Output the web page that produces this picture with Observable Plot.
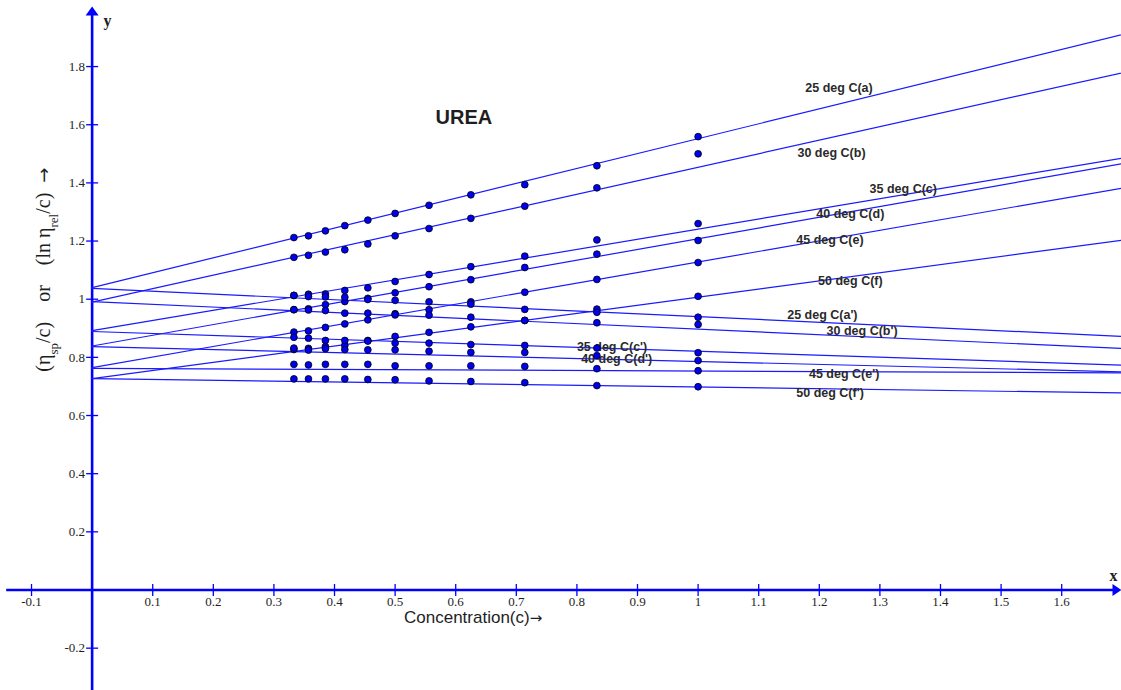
<!DOCTYPE html>
<html><head><meta charset="utf-8">
<script src="https://cdn.jsdelivr.net/npm/d3@7"></script>
<script src="https://cdn.jsdelivr.net/npm/@observablehq/plot@0.6"></script>
<style>html,body{margin:0;padding:0;background:#fff;} svg{display:block}</style>
</head><body><div id="chart"></div>
<script>
// ---- data ----
const concentration = [0.333, 0.357, 0.385, 0.417, 0.455, 0.5, 0.556, 0.625, 0.714, 0.833, 1.0];

const series_a  = [1.212, 1.218, 1.235, 1.253, 1.272, 1.295, 1.323, 1.359, 1.394, 1.459, 1.559];
const series_b  = [1.144, 1.151, 1.162, 1.170, 1.190, 1.218, 1.243, 1.278, 1.320, 1.383, 1.500];
const series_c  = [1.013, 1.017, 1.018, 1.030, 1.039, 1.061, 1.085, 1.112, 1.148, 1.204, 1.260];
const series_d  = [0.964, 0.967, 0.981, 0.992, 1.003, 1.022, 1.043, 1.067, 1.109, 1.155, 1.202];
const series_e  = [0.887, 0.891, 0.903, 0.915, 0.929, 0.950, 0.964, 0.991, 1.024, 1.068, 1.126];
const series_f  = [0.827, 0.831, 0.837, 0.841, 0.858, 0.872, 0.886, 0.905, 0.927, 0.966, 1.010];
const series_a2 = [1.013, 1.009, 1.008, 1.007, 0.999, 0.996, 0.991, 0.983, 0.965, 0.955, 0.938];
const series_b2 = [0.964, 0.963, 0.961, 0.952, 0.952, 0.946, 0.945, 0.938, 0.927, 0.919, 0.913];
const series_c2 = [0.869, 0.866, 0.858, 0.858, 0.856, 0.849, 0.849, 0.844, 0.841, 0.832, 0.816];
const series_d2 = [0.832, 0.825, 0.830, 0.827, 0.826, 0.826, 0.821, 0.817, 0.817, 0.806, 0.789];
const series_e2 = [0.776, 0.774, 0.776, 0.776, 0.776, 0.771, 0.771, 0.771, 0.769, 0.761, 0.754];
const series_f2 = [0.726, 0.726, 0.726, 0.726, 0.724, 0.723, 0.719, 0.717, 0.713, 0.703, 0.699];

const seriesLabels = ["25 deg C(a)", "30 deg C(b)", "35 deg C(c)", "40 deg C(d)", "45 deg C(e)", "50 deg C(f)",
                      "25 deg C(a')", "30 deg C(b')", "35 deg C(c')", "40 deg C(d')", "45 deg C(e')", "50 deg C(f')"];
const seriesValues = [series_a, series_b, series_c, series_d, series_e, series_f,
                      series_a2, series_b2, series_c2, series_d2, series_e2, series_f2];
// fitted straight lines (intercept at c = 0, slope)
const lineIntercepts = [1.040, 0.990, 0.892, 0.839, 0.765, 0.727, 1.037, 0.992, 0.889, 0.837, 0.762, 0.727];
const lineSlopes     = [0.512, 0.464, 0.349, 0.369, 0.363, 0.280, -0.097, -0.095, -0.068, -0.051, -0.009, -0.029];
// label anchor (left end) positions in data units
const labelAtX = [1.177, 1.164, 1.283, 1.195, 1.162, 1.198, 1.147, 1.212, 0.800, 0.807, 1.183, 1.162];
const labelAtY = [1.727, 1.502, 1.380, 1.294, 1.202, 1.064, 0.944, 0.890, 0.835, 0.793, 0.743, 0.678];

const xTicks = [-0.1, 0.1, 0.2, 0.3, 0.4, 0.5, 0.6, 0.7, 0.8, 0.9, 1, 1.1, 1.2, 1.3, 1.4, 1.5, 1.6];
const xTickLabels = ["-0.1","0.1","0.2","0.3","0.4","0.5","0.6","0.7","0.8","0.9","1","1.1","1.2","1.3","1.4","1.5","1.6"];
const yTicks = [-0.2, 0.2, 0.4, 0.6, 0.8, 1, 1.2, 1.4, 1.6, 1.8];
const yTickLabels = ["-0.2","0.2","0.4","0.6","0.8","1","1.2","1.4","1.6","1.8"];

const xDomain = [-0.1512, 1.6987];
const yDomain = [-0.3456, 2.0272];

// ---- tables ----
const points = [];
seriesValues.forEach((vals, i) => vals.forEach((v, j) => points.push({series: seriesLabels[i], c: concentration[j], v})));
const lines = [];
seriesLabels.forEach((s, i) => {
  [0, xDomain[1] + 0.01].forEach(x => lines.push({series: s, c: x, v: lineIntercepts[i] + lineSlopes[i] * x}));
});
const labelRows = seriesLabels.map((s, i) => ({text: s, x: labelAtX[i], y: labelAtY[i]}));

// ---- custom symbols ----
const tickV = {draw(ctx, size) { const r = Math.sqrt(size / Math.PI); ctx.moveTo(0, -r); ctx.lineTo(0, r); }};
const tickH = {draw(ctx, size) { const r = Math.sqrt(size / Math.PI); ctx.moveTo(-r, 0); ctx.lineTo(r, 0); }};
const arrowUp = {draw(ctx) { ctx.moveTo(0, 6); ctx.lineTo(6.5, 15); ctx.lineTo(-6.5, 15); ctx.closePath(); }};
const arrowRight = {draw(ctx) { ctx.moveTo(0, 0); ctx.lineTo(-9, -6); ctx.lineTo(-9, 6); ctx.closePath(); }};

const BLUE = "#0000ff";
const TXT = "#1e1e1e";

const chart = Plot.plot({
  width: 1121, height: 690, margin: 0,
  x: {domain: xDomain, axis: null},
  y: {domain: yDomain, axis: null},
  style: {background: "#fff", overflow: "visible"},
  marks: [
    // axes through the origin
    Plot.ruleY([0], {x1: -0.141, x2: xDomain[1] - 0.01, stroke: BLUE, strokeWidth: 2.6}),
    Plot.ruleX([0], {y1: yDomain[0], y2: 1.99, stroke: BLUE, strokeWidth: 2.6}),
    Plot.dot([{x: 0, y: yDomain[1]}], {x: "x", y: "y", symbol: arrowUp, fill: BLUE, stroke: "none"}),
    Plot.dot([{x: xDomain[1], y: 0}], {x: "x", y: "y", symbol: arrowRight, fill: BLUE, stroke: "none"}),
    Plot.dot(xTicks, {x: d => d, y: 0, symbol: tickV, r: 6, stroke: BLUE, strokeWidth: 1.3, fill: "none"}),
    Plot.dot(yTicks, {x: 0, y: d => d, symbol: tickH, r: 6, stroke: BLUE, strokeWidth: 1.3, fill: "none"}),
    Plot.text(xTicks, {x: d => d, y: 0, text: (d, i) => xTickLabels[i], dy: 12, fontFamily: "Liberation Serif", fontSize: 13, fill: TXT}),
    Plot.text(yTicks, {x: 0, y: d => d, text: (d, i) => yTickLabels[i], dx: -7, textAnchor: "end", fontFamily: "Liberation Serif", fontSize: 13, fill: TXT}),
    Plot.text(["x"], {x: 1.6855, y: 0.050, text: d => d, fontFamily: "Liberation Serif", fontWeight: "bold", fontSize: 16, fill: TXT}),
    Plot.text(["y"], {x: 0.0254, y: 1.958, text: d => d, fontFamily: "Liberation Serif", fontWeight: "bold", fontSize: 16, fill: TXT}),
    Plot.text(["UREA"], {x: 0.6135, y: 1.625, text: d => d, fontFamily: "Liberation Sans", fontWeight: "bold", fontSize: 20, fill: TXT}),
    // fitted lines
    Plot.line(lines, {x: "c", y: "v", z: "series", stroke: "#1a1aff", strokeWidth: 1.2}),
    // series labels
    Plot.text(labelRows, {x: "x", y: "y", text: "text", textAnchor: "start", fontFamily: "Liberation Sans", fontWeight: "bold", fontSize: 12.5, fill: "#2a2a2a"}),
    // data points
    Plot.dot(points, {x: "c", y: "v", r: 3.4, fill: "#0000f0", stroke: "#000", strokeWidth: 0.8})
  ]
});

const sx = chart.scale("x"), sy = chart.scale("y");
const svg = d3.select(chart);

// x-axis title
const xt = svg.append("text")
  .attr("x", sx.apply(0.5155)).attr("y", sy.apply(-0.096))
  .attr("dy", "0.35em")
  .attr("text-anchor", "start")
  .attr("font-family", "Liberation Sans").attr("font-size", 17).attr("fill", TXT);
xt.append("tspan").text("Concentration(c)");
xt.append("tspan").attr("font-family", "DejaVu Sans").attr("font-size", 15).text("\u2192");

// y-axis title with subscripts
const t = svg.append("text")
  .attr("transform", `translate(43,${sy.apply(1.1)}) rotate(-90)`)
  .attr("text-anchor", "middle")
  .attr("dy", "0.35em")
  .attr("font-family", "Liberation Serif")
  .attr("font-size", 20)
  .attr("fill", TXT)
  .style("white-space", "pre");
t.append("tspan").text("(\u03b7");
t.append("tspan").attr("baseline-shift", "sub").attr("font-size", 13).text("sp");
t.append("tspan").text("/c)    or    (ln \u03b7");
t.append("tspan").attr("baseline-shift", "sub").attr("font-size", 13).text("rel");
t.append("tspan").text("/c)  ");
t.append("tspan").attr("font-family", "DejaVu Sans").attr("font-size", 18).text("\u2192");

document.getElementById("chart").appendChild(chart);
</script>
</body></html>
